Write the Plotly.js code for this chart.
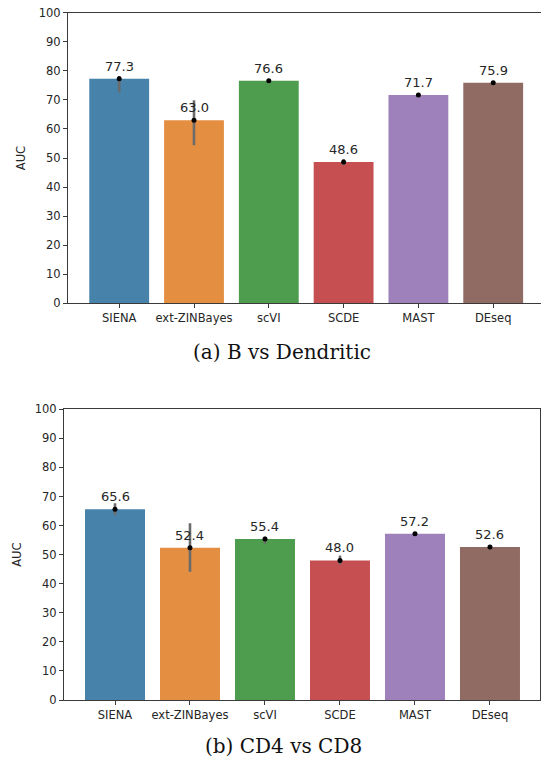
<!DOCTYPE html>
<html>
<head>
<meta charset="utf-8">
<script src="https://cdn.plot.ly/plotly-3.0.1.min.js"></script>
<style>html,body{margin:0;padding:0;background:#fff;}#chart{width:541px;height:762px;}</style>
</head>
<body>
<div id="chart"></div>
<script>
// ---- data ----
const methods = ["SIENA", "ext-ZINBayes", "scVI", "SCDE", "MAST", "DEseq"];
const colors = ["#4682AA", "#E48E41", "#4E9D4E", "#C65051", "#9E80BA", "#906B64"];

// (a) B vs Dendritic
const aucA = [77.3, 63.0, 76.6, 48.6, 71.7, 75.9];
const ciLowA = [72.6, 54.4, 76.2, 47.6, 71.5, 75.7];
const ciHighA = [78.2, 69.9, 76.9, 49.6, 71.9, 76.1];

// (b) CD4 vs CD8
const aucB = [65.6, 52.4, 55.4, 48.0, 57.2, 52.6];
const ciLowB = [63.6, 44.1, 53.8, 46.6, 57.0, 52.4];
const ciHighB = [67.7, 60.8, 56.2, 49.7, 57.4, 52.8];

const captions = ["(a) B vs Dendritic", "(b) CD4 vs CD8"];
const yTitle = "AUC";

// ---- build ----
const fontSans = "DejaVu Sans, sans-serif";
const txtCol = "#262626";
function barTrace(vals, lo, hi, xa, ya) {
  return {
    type: "bar", x: methods, y: vals, xaxis: xa, yaxis: ya,
    marker: {color: colors, line: {width: 0}},
    width: 0.8,
    error_y: {type: "data", symmetric: false,
      array: hi.map((h, i) => h - vals[i]),
      arrayminus: lo.map((l, i) => vals[i] - l),
      color: "#6b6b6b", thickness: 2.6, width: 0},
    hoverinfo: "skip", showlegend: false
  };
}
function dotTrace(vals, xa, ya) {
  return {type: "scatter", mode: "markers", x: methods, y: vals, xaxis: xa, yaxis: ya,
    marker: {color: "#000", size: 5}, hoverinfo: "skip", showlegend: false};
}
const data = [
  barTrace(aucA, ciLowA, ciHighA, "x", "y"), dotTrace(aucA, "x", "y"),
  barTrace(aucB, ciLowB, ciHighB, "x2", "y2"), dotTrace(aucB, "x2", "y2")
];

const annotations = [];
function addLabels(vals, xa, ya) {
  vals.forEach((v, i) => annotations.push({
    x: methods[i], y: v, xref: xa, yref: ya, text: v.toFixed(1), showarrow: false,
    yanchor: "bottom", yshift: 3, font: {family: fontSans, size: 13, color: txtCol}
  }));
}
addLabels(aucA, "x", "y");
addLabels(aucB, "x2", "y2");
annotations.push({x: 282/541, y: 1 - 352/762, xref: "paper", yref: "paper", text: captions[0],
  showarrow: false, font: {family: "DejaVu Serif, serif", size: 20, color: "#111"}, xanchor: "center", yanchor: "middle"});
annotations.push({x: 283/541, y: 1 - 746/762, xref: "paper", yref: "paper", text: captions[1],
  showarrow: false, font: {family: "DejaVu Serif, serif", size: 20, color: "#111"}, xanchor: "center", yanchor: "middle"});

const axLine = "#3a3a3a";
function xAxis(domain, range, anchor) {
  return {domain: domain, range: range, anchor: anchor, type: "category",
    showline: true, linecolor: axLine, linewidth: 1, mirror: true,
    ticks: "outside", ticklen: 4, tickcolor: axLine, showgrid: false, zeroline: false,
    tickfont: {family: fontSans, size: 11.5, color: txtCol}, fixedrange: true};
}
function yAxis(domain, anchor, mirror) {
  return {domain: domain, range: [0, 100], anchor: anchor, dtick: 10, tick0: 0,
    showline: true, linecolor: axLine, linewidth: 1, mirror: mirror,
    ticks: "outside", ticklen: 4, tickcolor: axLine, showgrid: false, zeroline: false,
    tickfont: {family: fontSans, size: 11.5, color: txtCol},
    title: {text: yTitle, font: {family: fontSans, size: 11.5, color: txtCol}, standoff: 10},
    fixedrange: true};
}

const layout = {
  width: 541, height: 762,
  margin: {l: 0, r: 0, t: 0, b: 0},
  paper_bgcolor: "#fff", plot_bgcolor: "#fff",
  bargap: 0.2,
  xaxis: xAxis([68/541, 1], [-0.6845, 5.639], "y"),
  yaxis: yAxis([1 - 303.3/762, 1 - 12.7/762], "x", false),
  xaxis2: xAxis([64/541, 540/541], [-0.68, 5.667], "y2"),
  yaxis2: yAxis([1 - 700/762, 1 - 409.3/762], "x2", true),
  annotations: annotations
};
Plotly.newPlot("chart", data, layout, {staticPlot: true, displayModeBar: false});
</script>
</body>
</html>
